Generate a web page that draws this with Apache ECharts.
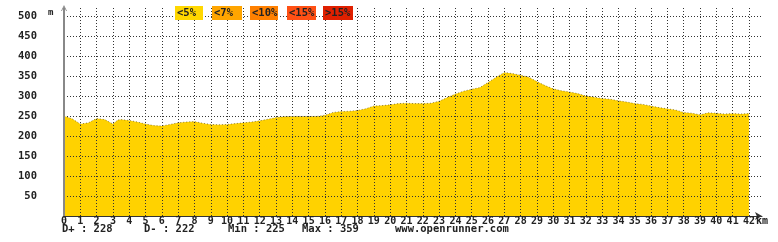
<!DOCTYPE html>
<html>
<head>
<meta charset="utf-8">
<script src="https://cdn.jsdelivr.net/npm/echarts@6/dist/echarts.min.js"></script>
<style>
html,body{margin:0;padding:0;background:#fff;}
#c{width:778px;height:242px;}
</style>
</head>
<body>
<div id="c"></div>
<script>
// Distance (km) and elevation (m) read from the profile
var kms = [0,0.5,1,1.5,2,2.5,3,3.3,3.5,4,4.5,5,5.5,6,6.5,7,7.5,8,8.5,9,9.5,10,10.5,11,11.5,12,12.5,13,13.5,14,14.5,15,15.5,16,16.5,17,17.5,18,18.5,19,19.5,20,20.5,21,21.5,22,22.5,23,23.5,24,24.5,25,25.5,26,26.5,27,27.5,28,28.5,29,29.5,30,30.5,31,31.5,32,32.5,33,33.5,34,34.5,35,35.5,36,36.5,37,37.5,38,38.5,39,39.5,40,40.5,41,41.5,42];
var elev = [250,243,230,233,244,241,230,240,241,239,235,230,226,225,229,233,235,236,232,229,228,229,231,233,235,238,242,246,248,249,249,249,249,252,259,261,262,264,268,275,276,278,281,282,281,281,282,287,296,305,312,317,321,334,347,359,356,352,347,336,326,318,313,310,306,300,297,294,292,288,285,281,279,275,271,268,265,259,257,253,258,257,255,256,255,256];
var legendLabels = ['<5%','<7%','<10%','<15%','>15%'];
var legendColors = ['#FFD700','#FFA500','#FF8000','#FF5014','#E02000'];
var stats = ['D+ : 228','D- : 222','Min : 225','Max : 359','www.openrunner.com'];

var FONT = '"DejaVu Sans Mono", monospace';
var chart = echarts.init(document.getElementById('c'), null, {renderer:'canvas'});

var legendX = [175,212,250,287,323];
var legendW = [28,30,28,29,30];
var statX = [62,144,228,302,395];
var graphics = [];
legendLabels.forEach(function(l,i){
  graphics.push({type:'rect', z:10, shape:{x:legendX[i], y:6, width:legendW[i], height:14}, style:{fill:legendColors[i]}});
  graphics.push({type:'text', z:11, x:legendX[i]+2, y:13.5, style:{text:l, font:'bold 10.5px '+FONT, fill:'#222', verticalAlign:'middle'}});
});
stats.forEach(function(s,i){
  graphics.push({type:'text', z:11, x:statX[i], y:229.5, style:{text:s, font:'bold 10.5px '+FONT, fill:'#222', verticalAlign:'middle'}});
});
graphics.push({type:'text', z:11, x:48, y:13, style:{text:'m', font:'bold 9px '+FONT, fill:'#222', verticalAlign:'middle'}});
graphics.push({type:'text', z:11, x:756, y:221, style:{text:'km', font:'bold 10px '+FONT, fill:'#222', verticalAlign:'middle'}});

var data = kms.map(function(k,i){ return [k, elev[i]]; });

chart.setOption({
  animation:false,
  backgroundColor:'#fff',
  grid:{left:64, right:16, top:8, bottom:26},
  xAxis:[{
    type:'value', min:0, max:42.8, interval:1, z:3, position:'bottom',
    axisLine:{show:false}, axisTick:{show:false},
    axisLabel:{margin:0, fontFamily:FONT, fontWeight:'bold', fontSize:10, color:'#222',
      formatter:function(v){ return (Math.abs(v-Math.round(v))<1e-6 && v<=42) ? String(Math.round(v)) : ''; }},
    splitLine:{show:true, showMinLine:false, showMaxLine:false, lineStyle:{color:'#333', width:1, type:[1,2]}}
  },{
    type:'value', min:0, max:42.8, interval:1, z:1, position:'bottom',
    axisLine:{show:true, symbol:['none','arrow'], symbolSize:[6,7], lineStyle:{color:'#333', width:1}},
    axisTick:{show:false}, axisLabel:{show:false}, splitLine:{show:false}
  }],
  yAxis:{
    type:'value', min:0, max:520, interval:50, z:3,
    axisLine:{show:true, symbol:['none','path://M0,10 L5,0 L10,10 L8.5,10 L5,3 L1.5,10 Z'], symbolSize:[7,6], lineStyle:{color:'#888', width:2}},
    axisTick:{show:false},
    axisLabel:{margin:27, fontFamily:FONT, fontWeight:'bold', fontSize:10.5, color:'#222',
      formatter:function(v){ return (v>0 && v%50===0) ? String(v) : ''; }},
    splitLine:{show:true, showMinLine:false, showMaxLine:false, lineStyle:{color:'#333', width:1, type:[1,2]}}
  },
  series:[{
    type:'line', xAxisIndex:0, data:data, z:2, showSymbol:false, smooth:false,
    lineStyle:{color:'rgba(60,50,0,0.55)', width:1, type:[1,2]},
    areaStyle:{color:'#FFD200', opacity:1}
  }],
  graphic:graphics
});
</script>
</body>
</html>
